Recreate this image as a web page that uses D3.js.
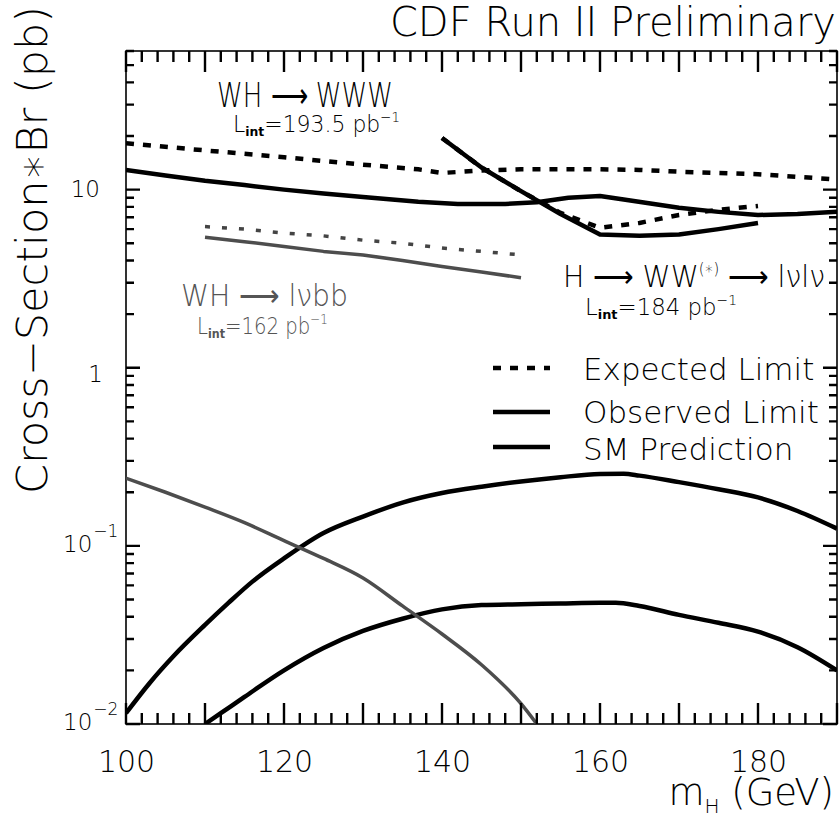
<!DOCTYPE html>
<html lang="en">
<head>
<meta charset="UTF-8">
<title>CDF Run II Preliminary - Higgs limits</title>
<style>
  body, html { margin: 0; padding: 0; background: #fff; }
  svg { display: block; font-family: "DejaVu Sans", sans-serif; }
  .thin { font-weight: 200; }
  .curve { fill: none; stroke: #000; stroke-width: 4.5; stroke-linejoin: round; }
  .expected { stroke-dasharray: 8 9; }
  .grey { stroke: #4d4d4d; stroke-width: 3.5; }
  .grey-dash { stroke: #444; stroke-width: 3.5; stroke-dasharray: 5 12; }
</style>
</head>
<body>
<svg id="chart" width="840" height="817"></svg>
<script src="https://cdnjs.cloudflare.com/ajax/libs/d3/7.8.5/d3.min.js"></script>
<script>
// WH -> WWW (193.5 pb-1)
const wwwExpMass = [100, 110, 120, 130, 137, 140, 145, 150, 155, 160, 165, 170, 180, 190];
const wwwExp     = [18.2, 16.6, 15.2, 13.8, 13.0, 12.4, 12.8, 13.0, 13.0, 13.0, 12.9, 12.6, 12.2, 11.4];
const wwwObsMass = [100, 105, 110, 115, 120, 125, 130, 137, 142, 148, 152, 156, 160, 163, 170, 175, 180, 185, 190];
const wwwObs     = [12.9, 12.0, 11.2, 10.6, 10.0, 9.5, 9.1, 8.55, 8.3, 8.3, 8.5, 9.0, 9.2, 8.8, 7.9, 7.5, 7.2, 7.3, 7.5];

// WH -> l nu bb (162 pb-1)
const lvbbMass = [110, 115, 120, 125, 130, 135, 140, 145, 150];
const lvbbExp  = [6.2, 6.0, 5.7, 5.5, 5.2, 5.0, 4.7, 4.5, 4.3];
const lvbbObs  = [5.4, 5.1, 4.8, 4.5, 4.3, 4.0, 3.7, 3.45, 3.2];

// H -> WW(*) -> l nu l nu (184 pb-1)
const hwwMass = [140, 145, 150, 155, 160, 165, 170, 175, 180];
const hwwExp  = [19.5, 13.3, 9.8, 7.4, 6.1, 6.5, 7.2, 7.7, 8.1];
const hwwObs  = [19.5, 13.3, 9.8, 7.3, 5.6, 5.5, 5.6, 6.0, 6.5];

// SM predictions
const smHwwMass = [100, 103, 106, 110, 113, 116, 120, 125, 130, 135, 140, 145, 150, 155, 160, 163, 165, 170, 175, 180, 185, 190];
const smHww     = [0.0115, 0.017, 0.024, 0.036, 0.048, 0.063, 0.085, 0.118, 0.146, 0.175, 0.198, 0.215, 0.23, 0.243, 0.253, 0.254, 0.248, 0.228, 0.208, 0.187, 0.157, 0.125];
const smWwwMass = [110, 112, 115, 120, 125, 130, 135, 140, 145, 150, 155, 160, 162, 165, 170, 175, 180, 185, 190];
const smWww     = [0.010, 0.0115, 0.0142, 0.020, 0.0267, 0.0333, 0.039, 0.044, 0.0465, 0.047, 0.0475, 0.048, 0.048, 0.046, 0.041, 0.037, 0.033, 0.027, 0.020];
const smWhMass  = [100, 105, 110, 115, 120, 125, 130, 135, 140, 145, 150, 152];
const smWh      = [0.24, 0.20, 0.165, 0.135, 0.107, 0.085, 0.066, 0.046, 0.032, 0.0215, 0.013, 0.010];

const xLabels = [100, 120, 140, 160, 180];
const yMajor = [0.01, 0.1, 1, 10];

const mLeft = 126, mRight = 837, mTop = 51, mBottom = 724;

const svg = d3.select("#chart");
const x = d3.scaleLinear().domain([100, 190]).range([mLeft, mRight]);
const y = d3.scaleLog().domain([0.01, 60]).range([mBottom, mTop]);

// clip to the frame
svg.append("defs").append("clipPath").attr("id", "plotclip")
  .append("rect").attr("x", mLeft).attr("y", mTop)
  .attr("width", mRight - mLeft).attr("height", mBottom - mTop);

svg.append("rect")
  .attr("x", mLeft).attr("y", mTop)
  .attr("width", mRight - mLeft).attr("height", mBottom - mTop)
  .attr("fill", "none").attr("stroke", "#000").attr("stroke-width", 1.6);

// x tick labels
const xAxis = svg.append("g")
  .attr("transform", `translate(0,${mBottom})`)
  .call(d3.axisBottom(x).tickValues(xLabels).tickSize(0).tickPadding(27));
xAxis.select(".domain").remove();
xAxis.selectAll("text").attr("font-size", 30).attr("font-family", "DejaVu Sans")
  .attr("class", "thin").attr("fill", "#000");

// y tick labels
const yLab = svg.append("g").attr("class", "thin").attr("font-size", 23).attr("fill", "#000");
yLab.append("text").attr("x", 100).attr("y", y(10) + 7).attr("text-anchor", "end").text("10");
yLab.append("text").attr("x", 103).attr("y", y(1) + 14).attr("text-anchor", "end").text("1");
[[0.1, "−1"], [0.01, "−2"]].forEach(([v, e]) => {
  const t = yLab.append("text").attr("x", 63).attr("y", y(v) + 6);
  t.append("tspan").text("10");
  t.append("tspan").attr("font-size", 17).attr("dy", -15).attr("dx", 1).text(e);
});

// axis titles
svg.append("text").attr("class", "thin").attr("x", 836).attr("y", 36).attr("text-anchor", "end")
  .attr("font-size", 40).text("CDF Run II Preliminary");

const xt = svg.append("text").attr("class", "thin").attr("x", 834).attr("y", 805)
  .attr("text-anchor", "end").attr("font-size", 37);
xt.append("tspan").text("m");
xt.append("tspan").attr("font-size", 20).attr("dy", 8).text("H");
xt.append("tspan").attr("dy", -8).text(" (GeV)");

svg.append("text").attr("class", "thin").attr("transform", "translate(47,250) rotate(-90)")
  .attr("text-anchor", "middle").attr("font-size", 43)
  .text("Cross−Section∗Br (pb)");

// curves
const plot = svg.append("g").attr("clip-path", "url(#plotclip)");
const lin = d3.line().x(d => x(d[0])).y(d => y(d[1]));
const smooth = d3.line().x(d => x(d[0])).y(d => y(d[1])).curve(d3.curveMonotoneX);
const zip = (m, v) => m.map((d, i) => [d, v[i]]);

plot.append("path").attr("class", "curve").attr("d", smooth(zip(smHwwMass, smHww)));
plot.append("path").attr("class", "curve").attr("d", smooth(zip(smWwwMass, smWww)));
plot.append("path").attr("class", "curve grey").attr("d", smooth(zip(smWhMass, smWh)));

plot.append("path").attr("class", "curve expected").attr("d", lin(zip(wwwExpMass, wwwExp)));
plot.append("path").attr("class", "curve").attr("d", lin(zip(wwwObsMass, wwwObs)));
plot.append("path").attr("class", "curve").attr("d", lin(zip(hwwMass, hwwObs)));
plot.append("path").attr("class", "curve expected").attr("d", lin(zip(hwwMass, hwwExp)));
plot.append("path").attr("class", "curve grey-dash").attr("d", lin(zip(lvbbMass, lvbbExp)));
plot.append("path").attr("class", "curve grey").attr("d", lin(zip(lvbbMass, lvbbObs)));

// channel labels
function lumi(xp, yp, num, w, col) {
  const t = svg.append("text").attr("class", "thin").attr("x", xp).attr("y", yp)
    .attr("font-size", 23).attr("fill", col)
    .attr("textLength", w).attr("lengthAdjust", "spacingAndGlyphs");
  t.append("tspan").text("L");
  t.append("tspan").attr("font-size", 13).attr("font-weight", "bold").attr("dy", 4).text("int");
  t.append("tspan").attr("dy", -4).text("=" + num + " pb");
  t.append("tspan").attr("font-size", 14).attr("dy", -10).text("−1");
}

svg.append("text").attr("class", "thin").attr("x", 217).attr("y", 107).attr("font-size", 33)
  .attr("textLength", 176).attr("lengthAdjust", "spacingAndGlyphs").text("WH ⟶ WWW");
lumi(233, 132, "193.5", 167, "#000");

svg.append("text").attr("class", "thin").attr("x", 181).attr("y", 306).attr("font-size", 31).attr("fill", "#555")
  .attr("textLength", 167).attr("lengthAdjust", "spacingAndGlyphs").text("WH ⟶ lνbb");
lumi(197, 334, "162", 131, "#555");

const hw = svg.append("text").attr("class", "thin").attr("x", 563).attr("y", 287).attr("font-size", 31)
  .attr("textLength", 262).attr("lengthAdjust", "spacingAndGlyphs");
hw.append("tspan").text("H ⟶ WW");
hw.append("tspan").attr("font-size", 16).attr("dy", -13).text("(∗)");
hw.append("tspan").attr("dy", 13).text(" ⟶ lνlν");
lumi(585, 315, "184", 152, "#000");

// legend
const legend = [
  { label: "Expected Limit", cls: "curve expected", ly: 368, ty: 380 },
  { label: "Observed Limit", cls: "curve", ly: 412, ty: 423 },
  { label: "SM Prediction", cls: "curve", ly: 447, ty: 460 }
];
legend.forEach(d => {
  svg.append("line").attr("class", d.cls)
    .attr("x1", 493).attr("x2", 550).attr("y1", d.ly).attr("y2", d.ly);
  svg.append("text").attr("class", "thin").attr("x", 583).attr("y", d.ty)
    .attr("font-size", 31).text(d.label);
});

// ticks last, all pointing into the frame (bottom/top and left/right mirrored)
const xTicks = d3.range(100, 191, 2).map(v => ({ v, len: v % 10 === 0 ? 21 : 11 }));
const yTicks = [];
yMajor.forEach(d => {
  yTicks.push({ v: d, len: 14 });
  for (let k = 2; k <= 9; k++) if (d * k <= 60) yTicks.push({ v: d * k, len: 8 });
});

let tickPath = "";
xTicks.forEach(d => {
  const px = x(d.v).toFixed(1);
  tickPath += `M${px},${mBottom}L${px},${mBottom - d.len}M${px},${mTop}L${px},${mTop + d.len}`;
});
yTicks.forEach(d => {
  const py = y(d.v).toFixed(1);
  tickPath += `M${mLeft},${py}L${mLeft + d.len},${py}M${mRight},${py}L${mRight - d.len},${py}`;
});
svg.append("path").attr("d", tickPath)
  .attr("fill", "none").attr("stroke", "#000").attr("stroke-width", 2.4);
</script>
</body>
</html>
